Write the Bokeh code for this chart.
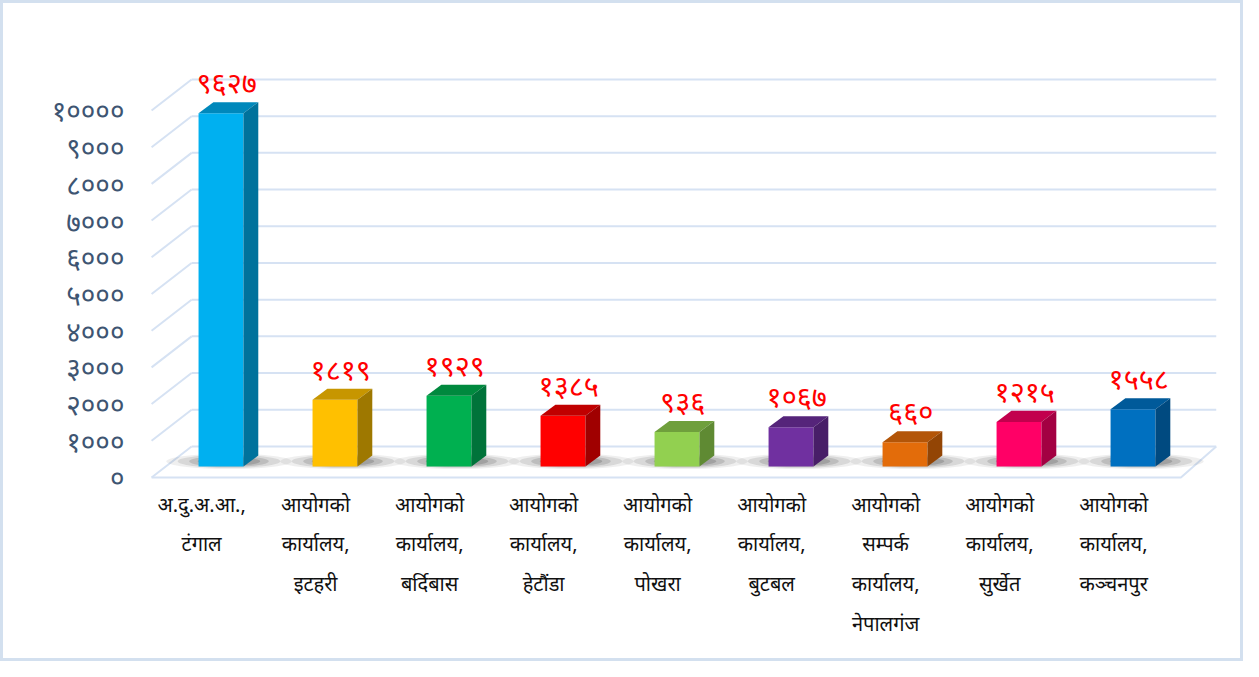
import numpy as np
from bokeh.plotting import figure
from bokeh.models import Range1d, LinearAxis, FixedTicker
from bokeh.embed import file_html
from bokeh.resources import INLINE
from bokeh.core.properties import value

# ---------------- data ----------------
categories = [
    "अ.दु.अ.आ.,\nटंगाल",
    "आयोगको\nकार्यालय,\nइटहरी",
    "आयोगको\nकार्यालय,\nबर्दिबास",
    "आयोगको\nकार्यालय,\nहेटौंडा",
    "आयोगको\nकार्यालय,\nपोखरा",
    "आयोगको\nकार्यालय,\nबुटबल",
    "आयोगको\nसम्पर्क\nकार्यालय,\nनेपालगंज",
    "आयोगको\nकार्यालय,\nसुर्खेत",
    "आयोगको\nकार्यालय,\nकञ्चनपुर",
]
values = [9627, 1819, 1929, 1385, 936, 1067, 660, 1215, 1558]
front_colors = ["#00b0f0", "#ffc000", "#00b050", "#ff0000", "#92d050",
                "#7030a0", "#e36c0a", "#ff0066", "#0070c0"]
top_colors = ["#0088bb", "#c79600", "#00893e", "#c00000", "#6f9f3c",
              "#55247a", "#b35508", "#c2004d", "#005a9a"]
side_colors = ["#00729c", "#9e7800", "#00733a", "#a00000", "#5f8a33",
               "#481e68", "#934505", "#a30042", "#004a80"]
y_ticks = [0, 1000, 2000, 3000, 4000, 5000, 6000, 7000, 8000, 9000, 10000]

DEV = str.maketrans("0123456789", "०१२३४५६७८९")
def dev(n):
    return str(n).translate(DEV)

# ---------------- geometry (style) ----------------
FONT = "Noto Sans"
base = -545          # bar base relative to back wall zero
front_drop = 845     # front floor edge / label offset (value units)
bar_shift = 0.17
half_w = 0.197
dx, dy = 0.13, 300   # 3D depth offset
gx0, gx1 = -0.088, 8.90
fx0 = -0.439
X0, X1 = -0.58, 9.025
Y0, Y1 = -1009, 10653

p = figure(width=1243, height=661, output_backend="svg", toolbar_location=None,
           x_range=Range1d(X0, X1), y_range=Range1d(Y0, Y1),
           y_axis_location=None, min_border_left=132, min_border_right=16,
           min_border_top=52, min_border_bottom=181)
p.outline_line_color = None
p.xgrid.visible = False
p.ygrid.visible = False
p.styles = {"border": "3px solid #d3e0ef", "box-sizing": "border-box"}

# grid: back wall lines + diagonals
gc = "#d6e2f3"
p.multi_line(xs=[[gx0, gx1] for _ in y_ticks], ys=[[t, t] for t in y_ticks],
             line_color=gc, line_width=2)
p.multi_line(xs=[[fx0, gx0] for _ in y_ticks],
             ys=[[t - front_drop, t] for t in y_ticks], line_color=gc, line_width=2)
# floor front edge and right edge
fx1 = gx1 - 0.31
p.line(x=[fx0, fx1, gx1], y=[y_ticks[0] - front_drop, y_ticks[0] - front_drop, y_ticks[0]],
       line_color=gc, line_width=2)

xs_c = np.arange(len(values)) + bar_shift
vals = np.array(values, dtype=float)

# shadows
for k, (w, a) in enumerate([(1.1, 0.08), (0.9, 0.12), (0.7, 0.16), (0.55, 0.2)]):
    p.ellipse(x=xs_c + 0.07, y=[base + 140] * len(values), width=w,
              height=420 - 60 * k, fill_color="#303030", fill_alpha=a, line_color=None)

left = xs_c - half_w
right = xs_c + half_w
top = vals + base
# front faces
p.quad(left=left, right=right, bottom=[base] * len(values), top=top,
       fill_color=front_colors, line_color=None)
# top faces
p.patches(xs=[[l, r, r + dx, l + dx] for l, r in zip(left, right)],
          ys=[[t, t, t + dy, t + dy] for t in top],
          fill_color=top_colors, line_color=None)
# side faces
p.patches(xs=[[r, r, r + dx, r + dx] for r in right],
          ys=[[base, t, t + dy, base + dy] for t in top],
          fill_color=side_colors, line_color=None)

# value labels
p.text(x=xs_c + 0.05, y=top + dy + 30, text=[dev(v) for v in values],
       text_color="#ff0000", text_font=value(FONT), text_font_size="29px",
       text_align="center", text_baseline="bottom")

# x axis
xa = p.xaxis[0]
xa.ticker = FixedTicker(ticks=list(range(len(categories))))
xa.major_label_overrides = {i: c for i, c in enumerate(categories)}
xa.axis_line_color = None
xa.major_tick_line_color = None
xa.minor_tick_line_color = None
xa.major_label_text_font = FONT
xa.major_label_text_font_size = "20px"
xa.major_label_text_color = "#111111"
xa.major_label_text_line_height = 1.48
xa.major_label_standoff = 1

# y axis (labels sit at the front end of diagonals)
p.extra_y_ranges = {"lab": Range1d(Y0 + front_drop, Y1 + front_drop)}
ya = LinearAxis(y_range_name="lab", ticker=FixedTicker(ticks=y_ticks))
ya.major_label_overrides = {t: dev(t) for t in y_ticks}
ya.axis_line_color = None
ya.major_tick_line_color = None
ya.minor_tick_line_color = None
ya.major_label_text_font = FONT
ya.major_label_text_font_size = "28px"
ya.major_label_text_color = "#3e5572"
ya.major_label_standoff = 5
p.add_layout(ya, "left")

open("out.html", "w").write(file_html(p, INLINE))
